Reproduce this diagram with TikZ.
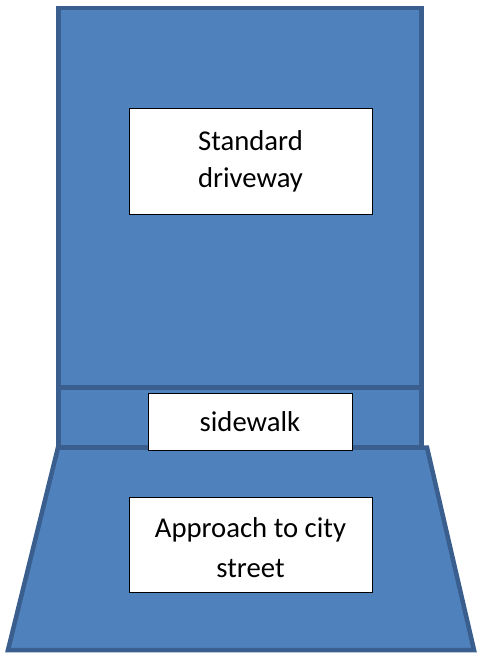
\documentclass[tikz,border=0pt]{standalone}
\usepackage{fontspec}
\setmainfont{Carlito}
\definecolor{areafill}{HTML}{4F81BD}
\definecolor{areastroke}{HTML}{3A5F8E}
\begin{document}
\begin{tikzpicture}[x=1bp,y=-1bp,
  area/.style={fill=areafill,draw=areastroke,line width=4.5bp,line join=miter},
  label box/.style={draw=black,fill=white,line width=1bp,inner sep=0pt,align=center,
    font=\fontsize{28.7bp}{37bp}\selectfont},
  label text/.style={inner sep=0pt,align=center,font=\fontsize{28.7bp}{40bp}\selectfont}]
\useasboundingbox (0,0) rectangle (477,654);
\draw[area] (58.5,8) rectangle (421.5,387.5);
\draw[area] (58.5,387.5) rectangle (421.5,447.5);
\draw[area] (58,447.5) -- (427,447.5) -- (474,650) -- (8,650) -- cycle;
\node[label box,minimum width=243bp,minimum height=105bp] (drive) at (250.5,161.5) {Standard\\driveway};
\node[label box,minimum width=204bp,minimum height=57bp] (side) at (250,421.5) {sidewalk};
\node[label box,minimum width=243bp,minimum height=95bp] (approach) at (250.5,544.5) {};
\node[label text] (approachtext) at (250.5,548) {Approach to city\\street};
\end{tikzpicture}
\end{document}
